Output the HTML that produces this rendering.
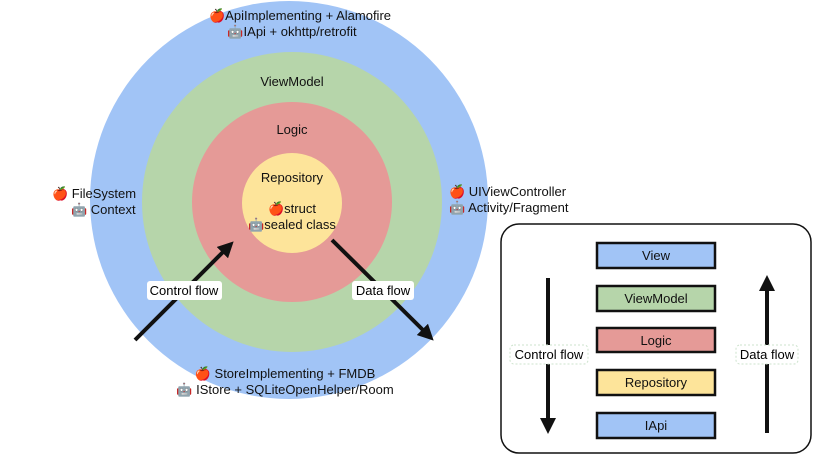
<!DOCTYPE html>
<html><head><style>
body{margin:0;width:813px;height:455px;background:#fff;overflow:hidden}
svg{font-family:"Liberation Sans",sans-serif;font-size:13px}
</style></head><body>
<svg width="813" height="455" viewBox="0 0 813 455">
<defs>
<marker id="ah" markerWidth="4" markerHeight="4" refX="2" refY="2" orient="auto"><path d="M0,0 L4,2 L0,4 Z" fill="#111"/></marker>
</defs>
<circle cx="289" cy="200" r="199" fill="#a1c4f6"/>
<circle cx="292" cy="202" r="150" fill="#b6d5aa"/>
<circle cx="292" cy="202" r="100" fill="#e59a97"/>
<circle cx="292" cy="203" r="50" fill="#fde49a"/>
<g text-anchor="middle" fill="#111">
<text x="300" y="20">🍎ApiImplementing + Alamofire</text>
<text x="292" y="36">🤖IApi + okhttp/retrofit</text>
<text x="292" y="86">ViewModel</text>
<text x="292" y="134">Logic</text>
<text x="292" y="182">Repository</text>
<text x="292" y="213">🍎struct</text>
<text x="292" y="229">🤖sealed class</text>
<text x="285" y="378">🍎 StoreImplementing + FMDB</text>
<text x="285" y="394">🤖 IStore + SQLiteOpenHelper/Room</text>
</g>
<text x="52" y="198" fill="#111">🍎 FileSystem</text>
<text x="71" y="214" fill="#111">🤖 Context</text>
<text x="449" y="196" fill="#111">🍎 UIViewController</text>
<text x="449" y="212" fill="#111">🤖 Activity/Fragment</text>
<line x1="135" y1="340" x2="228" y2="247" stroke="#111" stroke-width="4" marker-end="url(#ah)"/>
<line x1="332" y1="240" x2="428" y2="335" stroke="#111" stroke-width="4" marker-end="url(#ah)"/>
<rect x="147" y="281" width="75" height="19" rx="3" fill="#fff"/>
<text x="184" y="295" text-anchor="middle">Control flow</text>
<rect x="352" y="281" width="62" height="19" rx="3" fill="#fff"/>
<text x="383" y="295" text-anchor="middle">Data flow</text>
<rect x="501" y="224" width="310" height="229" rx="18" fill="#fff" stroke="#111" stroke-width="1.5"/>
<g stroke="#111" stroke-width="2.5">
<rect x="597" y="243" width="118" height="25" fill="#a1c4f6"/>
<rect x="597" y="286" width="118" height="25" fill="#b6d5aa"/>
<rect x="597" y="328" width="118" height="24" fill="#e59a97"/>
<rect x="597" y="370" width="118" height="25" fill="#fde49a"/>
<rect x="597" y="413" width="118" height="25" fill="#a1c4f6"/>
</g>
<g text-anchor="middle" fill="#111">
<text x="656" y="260">View</text>
<text x="656" y="303">ViewModel</text>
<text x="656" y="345">Logic</text>
<text x="656" y="387">Repository</text>
<text x="656" y="430">IApi</text>
</g>
<line x1="548" y1="278" x2="548" y2="426" stroke="#111" stroke-width="4" marker-end="url(#ah)"/>
<line x1="767" y1="433" x2="767" y2="283" stroke="#111" stroke-width="4" marker-end="url(#ah)"/>
<rect x="510" y="345" width="78" height="19" rx="4" fill="#fff" stroke="#cde3cd" stroke-dasharray="2,2"/>
<text x="549" y="359" text-anchor="middle">Control flow</text>
<rect x="736" y="345" width="62" height="19" rx="4" fill="#fff" stroke="#cde3cd" stroke-dasharray="2,2"/>
<text x="767" y="359" text-anchor="middle">Data flow</text>
</svg>
</body></html>
